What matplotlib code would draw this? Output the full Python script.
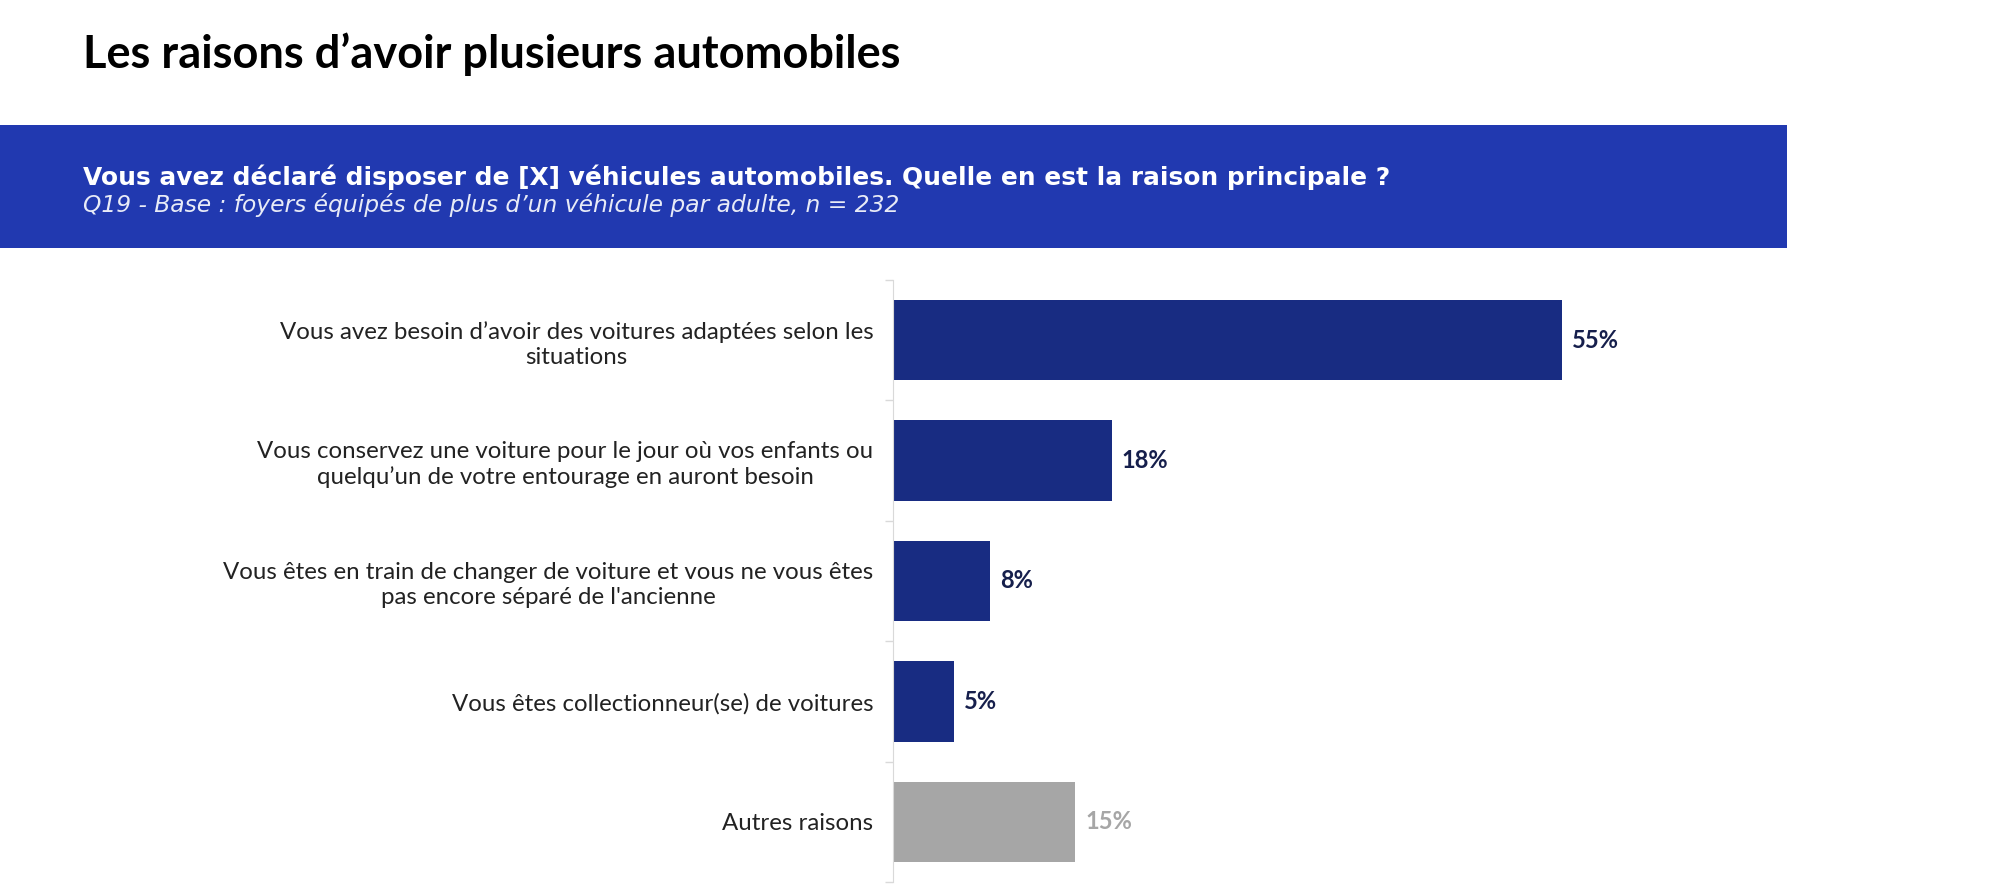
import matplotlib.pyplot as plt
import numpy as np

# data
categories = [
    "Vous avez besoin d\u2019avoir des voitures adapt\u00e9es selon les\nsituations",
    "Vous conservez une voiture pour le jour o\u00f9 vos enfants ou\nquelqu\u2019un de votre entourage en auront besoin",
    "Vous \u00eates en train de changer de voiture et vous ne vous \u00eates\npas encore s\u00e9par\u00e9 de l'ancienne",
    "Vous \u00eates collectionneur(se) de voitures",
    "Autres raisons",
]
values = [55, 18, 8, 5, 15]
is_other = [False, False, False, False, True]

title = "Les raisons d\u2019avoir plusieurs automobiles"
question = "Vous avez d\u00e9clar\u00e9 disposer de [X] v\u00e9hicules automobiles. Quelle en est la raison principale ?"
base = "Q19 - Base : foyers \u00e9quip\u00e9s de plus d\u2019un v\u00e9hicule par adulte, n = 232"

navy = "#182c82"
grey = "#a6a6a6"
banner_blue = "#2139b0"
label_navy = "#161f4c"

fig = plt.figure(figsize=(19.97, 8.9), dpi=100)

# title
fig.text(83 / 1997, 1 - 54 / 890, title, fontsize=32.5, fontweight="bold",
         family="Lato", color="black", va="center", ha="left")

# blue banner
banner = fig.add_axes([0, 1 - 248 / 890, 1787 / 1997, 123 / 890])
banner.set_facecolor(banner_blue)
banner.set_xticks([])
banner.set_yticks([])
for s in banner.spines.values():
    s.set_visible(False)
fig.text(83 / 1997, 1 - 177 / 890, question, fontsize=17.9, fontweight="bold",
         family="DejaVu Sans", color="white", va="center", ha="left")
fig.text(83 / 1997, 1 - 205 / 890, base, fontsize=16.8, style="italic",
         family="DejaVu Sans", color="#e8ebf7", va="center", ha="left")

# bar chart
ax = fig.add_axes([893 / 1997, 1 - 882 / 890, 894 / 1997, 602 / 890])
y = np.arange(len(values))
colors = [grey if o else navy for o in is_other]
ax.barh(y, values, height=0.667, color=colors)
ax.set_xlim(0, 894 / 12.16)
ax.set_ylim(len(values) - 0.5, -0.5)

for yi, v, o in zip(y, values, is_other):
    ax.text(v + 0.8, yi, f"{v}%", va="center", ha="left", fontsize=17,
            fontweight="bold", family="Lato", color=grey if o else label_navy)

ax.set_yticks(y)
ax.set_yticklabels(categories, fontsize=17.3, family="Lato", color="#222222",
                   multialignment="center", linespacing=1.25)
ax.tick_params(axis="y", length=0, pad=14)
ax.set_yticks(np.arange(-0.5, len(values), 1), minor=True)
ax.tick_params(axis="y", which="minor", length=6, color="#d9d9d9", width=1)
ax.set_xticks([])
for side in ["top", "right", "bottom"]:
    ax.spines[side].set_visible(False)
ax.spines["left"].set_color("#d9d9d9")

fig.savefig("out.png", dpi=100)
